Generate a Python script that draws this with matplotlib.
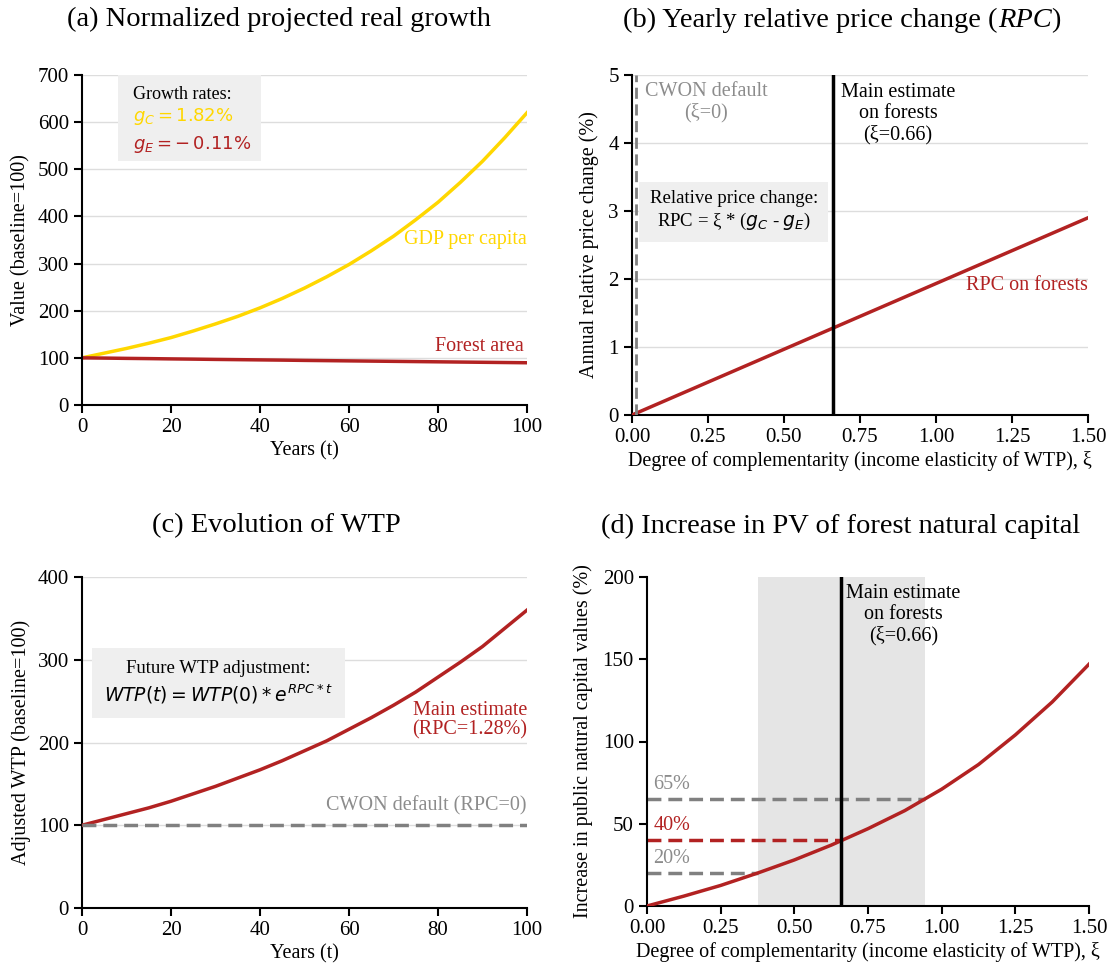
import matplotlib
matplotlib.use('Agg')
import matplotlib.pyplot as plt
from matplotlib.patches import Rectangle

plt.rcParams['font.family'] = ['Liberation Serif', 'DejaVu Sans']
plt.rcParams['mathtext.fontset'] = 'dejavusans'

# ---------------- data ----------------
years = [0, 5, 10, 15, 20, 25, 30, 35, 40, 45, 50, 55, 60, 65, 70, 75, 80, 85, 90, 95, 100]
gdp_per_capita = [100, 110, 120, 131, 143, 157, 172, 188, 206, 226, 248, 272, 298, 327, 358, 393, 430, 472, 517, 567, 620]
forest_area = [100, 99.5, 98.9, 98.4, 97.8, 97.3, 96.7, 96.2, 95.7, 95.2, 94.6, 94.1, 93.6, 93.1, 92.6, 92.1, 91.6, 91.1, 90.6, 90.1, 89.6]

wtp_main = [100, 107, 114, 121, 129, 138, 147, 157, 167, 178, 190, 202, 216, 230, 245, 261, 279, 297, 316, 338, 360]
wtp_years_cwon = [0, 100]
wtp_cwon = [100, 100]

rpc_xi = [0.0, 1.5]
rpc_values = [0.0, 2.9]
xi_main = 0.66
xi_cwon = 0.012

pv_xi = [0, 0.125, 0.25, 0.375, 0.5, 0.625, 0.75, 0.875, 1.0, 1.125, 1.25, 1.375, 1.5]
pv_increase = [0, 6, 12.5, 20, 28, 37, 47, 58, 71, 86, 104, 124, 147]
range_low, range_high = 0.375, 0.945
level_values = [65, 40, 20]
level_xi = [0.945, 0.66, 0.375]
level_labels = ['65%', '40%', '20%']

RED = '#b22222'
GOLD = '#ffd700'
GRAY = '#808080'
TGRAY = '#8c8c8c'
GRID = '#dddddd'
BOX = '#efefef'

W, H = 1111, 966
fig = plt.figure(figsize=(W / 100, H / 100), dpi=100)


def px_axes(left, right, top, bottom):
    return fig.add_axes([left / W, 1 - bottom / H, (right - left) / W, (bottom - top) / H])


def style(ax, grid=True):
    for s in ['top', 'right']:
        ax.spines[s].set_visible(False)
    for s in ['left', 'bottom']:
        ax.spines[s].set_linewidth(1.5)
    ax.tick_params(width=1.5, length=6, labelsize=15, direction='out')
    if grid:
        ax.yaxis.grid(True, color=GRID, lw=1)
    ax.set_axisbelow(True)


LBL = 14.5
TTL = 20.5
ANN = 14.5

# ---------------- (a) ----------------
ax = px_axes(82, 527, 75, 405)
style(ax)
ax.plot(years, gdp_per_capita, color=GOLD, lw=2.5)
ax.plot(years, forest_area, color=RED, lw=2.5)
ax.set_xlim(0, 100)
ax.set_ylim(0, 700)
ax.set_xticks([0, 20, 40, 60, 80, 100])
ax.set_yticks(range(0, 701, 100))
ax.set_xlabel('Years (t)', fontsize=LBL, labelpad=3)
ax.set_ylabel('Value (baseline=100)', fontsize=LBL, labelpad=5)
ax.add_patch(Rectangle((8, 518), 32.3, 182, facecolor=BOX, edgecolor='none', zorder=1))
ax.text(11.5, 658, 'Growth rates:', fontsize=13, va='center', ha='left', zorder=3)
ax.text(11.5, 612, r'$g_C = 1.82\%$', fontsize=13, color=GOLD, va='center', ha='left', zorder=3)
ax.text(11.5, 553, r'$g_E = -\,0.11\%$', fontsize=13, color=RED, va='center', ha='left', zorder=3)
ax.text(100, 352, 'GDP per capita', color=GOLD, fontsize=ANN, ha='right', va='center')
ax.text(99.3, 124, 'Forest area', color=RED, fontsize=ANN, ha='right', va='center')

# ---------------- (b) ----------------
ax = px_axes(632, 1088, 75, 415)
style(ax)
ax.plot(rpc_xi, rpc_values, color=RED, lw=2.5, zorder=3)
ax.axvline(xi_main, color='black', lw=2.5, zorder=4)
ax.axvline(xi_cwon, color=GRAY, lw=2, ls=(0, (4, 2)), zorder=4)
ax.set_xlim(0, 1.5)
ax.set_ylim(0, 5)
ax.set_xticks([0, 0.25, 0.5, 0.75, 1.0, 1.25, 1.5])
ax.set_xticklabels(['0.00', '0.25', '0.50', '0.75', '1.00', '1.25', '1.50'])
ax.set_yticks([0, 1, 2, 3, 4, 5])
ax.set_xlabel('Degree of complementarity (income elasticity of WTP), ξ', fontsize=LBL, labelpad=3)
ax.set_ylabel('Annual relative price change (%)', fontsize=LBL, labelpad=7)
ax.text(0.245, 4.6, 'CWON default\n(ξ=0)', color=TGRAY, fontsize=ANN, ha='center', va='center', linespacing=1.15)
ax.text(0.875, 4.43, 'Main estimate\non forests\n(ξ=0.66)', color='black', fontsize=ANN, ha='center', va='center', linespacing=1.15)
ax.text(0.335, 3.0, 'Relative price change:\nRPC = ξ * ($g_C$ - $g_E$)', fontsize=13.5, ha='center', va='center',
        linespacing=1.2, zorder=5,
        bbox=dict(boxstyle='square,pad=0.55', facecolor=BOX, edgecolor='none'))
ax.text(1.5, 1.9, 'RPC on forests', color=RED, fontsize=ANN, ha='right', va='center')

# ---------------- (c) ----------------
ax = px_axes(82, 527, 577, 908)
style(ax)
ax.plot(years, wtp_main, color=RED, lw=2.5, zorder=3)
ax.plot(wtp_years_cwon, wtp_cwon, color=GRAY, lw=2.5, ls=(0, (4, 2)), zorder=3)
ax.set_xlim(0, 100)
ax.set_ylim(0, 400)
ax.set_xticks([0, 20, 40, 60, 80, 100])
ax.set_yticks([0, 100, 200, 300, 400])
ax.set_xlabel('Years (t)', fontsize=LBL, labelpad=3)
ax.set_ylabel('Adjusted WTP (baseline=100)', fontsize=LBL, labelpad=5)
ax.text(30.6, 272, 'Future WTP adjustment:\n$WTP(t) = WTP(0) * e^{RPC * t}$', fontsize=13.5, ha='center',
        va='center', linespacing=1.3, zorder=5,
        bbox=dict(boxstyle='square,pad=0.65', facecolor=BOX, edgecolor='none'))
ax.text(100, 227, 'Main estimate\n(RPC=1.28%)', color=RED, fontsize=ANN, ha='right', va='center', linespacing=1.05)
ax.text(100, 123, 'CWON default (RPC=0)', color=TGRAY, fontsize=ANN, ha='right', va='center')

# ---------------- (d) ----------------
ax = px_axes(647, 1089, 577, 906)
style(ax, grid=False)
ax.axvspan(range_low, range_high, color='#e5e5e5', lw=0, zorder=0)
ax.plot(pv_xi, pv_increase, color=RED, lw=2.5, zorder=3)
ax.axvline(xi_main, color='black', lw=2.5, zorder=4)
lvl_colors = [GRAY, RED, GRAY]
txt_colors = [TGRAY, RED, TGRAY]
for v, xe, lab, c, tc in zip(level_values, level_xi, level_labels, lvl_colors, txt_colors):
    ax.plot([0, xe], [v, v], color=c, lw=2.5, ls=(0, (4, 2)), zorder=2)
    ax.text(0.022, v + 9, lab, color=tc, fontsize=ANN, ha='left', va='center')
ax.set_xlim(0, 1.5)
ax.set_ylim(0, 200)
ax.set_xticks([0, 0.25, 0.5, 0.75, 1.0, 1.25, 1.5])
ax.set_xticklabels(['0.00', '0.25', '0.50', '0.75', '1.00', '1.25', '1.50'])
ax.set_yticks([0, 50, 100, 150, 200])
ax.set_xlabel('Degree of complementarity (income elasticity of WTP), ξ', fontsize=LBL, labelpad=3)
ax.set_ylabel('Increase in public natural capital values (%)', fontsize=LBL, labelpad=7)
ax.text(0.87, 177, 'Main estimate\non forests\n(ξ=0.66)', color='black', fontsize=ANN, ha='center', va='center', linespacing=1.15)

# ---------------- titles ----------------
fig.text(279 / W, 1 - 19 / H, '(a) Normalized projected real growth', fontsize=TTL, ha='center', va='center')
fig.text(276 / W, 1 - 526 / H, '(c) Evolution of WTP', fontsize=TTL, ha='center', va='center')
fig.text(841 / W, 1 - 526 / H, '(d) Increase in PV of forest natural capital', fontsize=TTL, ha='center', va='center')

# (b) title with italic RPC
yb = 1 - 27 / H
t1 = fig.text(0, yb, '(b) Yearly relative price change (', fontsize=TTL, ha='left', va='baseline')
t2 = fig.text(0, yb, 'RPC', fontsize=TTL, ha='left', va='baseline', style='italic')
t3 = fig.text(0, yb, ')', fontsize=TTL, ha='left', va='baseline')
r = fig.canvas.get_renderer()
w1 = t1.get_window_extent(r).width
w2 = t2.get_window_extent(r).width
w3 = t3.get_window_extent(r).width
x0 = 842 - (w1 + w2 + w3) / 2
t1.set_x(x0 / W)
t2.set_x((x0 + w1) / W)
t3.set_x((x0 + w1 + w2) / W)

fig.savefig('out.png', dpi=100)
